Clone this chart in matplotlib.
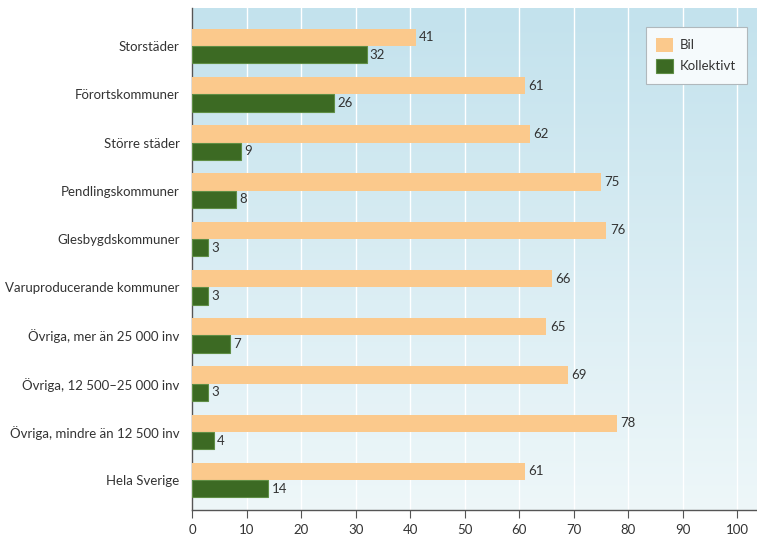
import numpy as np
import matplotlib.pyplot as plt
from matplotlib.colors import LinearSegmentedColormap

# ─── Data ─────────────────────────────────────────────────────────────────────

categories = [
    "Storstäder",
    "Förortskommuner",
    "Större städer",
    "Pendlingskommuner",
    "Glesbygdskommuner",
    "Varuproducerande kommuner",
    "Övriga, mer än 25 000 inv",
    "Övriga, 12 500–25 000 inv",
    "Övriga, mindre än 12 500 inv",
    "Hela Sverige",
]
bil = [41, 61, 62, 75, 76, 66, 65, 69, 78, 61]
kollektivt = [32, 26, 9, 8, 3, 3, 7, 3, 4, 14]
xticks = list(range(0, 101, 10))

BIL_COLOR = "#fbc98c"
KOLL_COLOR = "#3c6a23"
TEXT_COLOR = "#333333"

plt.rcParams["font.family"] = ["Lato", "DejaVu Sans"]
FS = 9.5

fig = plt.figure(figsize=(7.57, 5.41), dpi=100)
ax = fig.add_axes([192 / 757, 1 - 510 / 541, (757 - 192) / 757, (510 - 8) / 541])

# background gradient (light blue top -> almost white bottom)
cmap = LinearSegmentedColormap.from_list("bg", ["#c3e2ed", "#eef7f9"])
grad = np.linspace(0, 1, 256).reshape(-1, 1)
ax.imshow(grad, cmap=cmap, aspect="auto", extent=[0, 1, 0, 1],
          transform=ax.transAxes, zorder=0)

n = len(categories)
y = np.arange(n)[::-1]
h = 0.36

ax.barh(y + h / 2, bil, height=h, color=BIL_COLOR, zorder=3, label="Bil")
ax.barh(y - h / 2, kollektivt, height=h, color=KOLL_COLOR,
        edgecolor="#5f8e45", linewidth=0.8, zorder=3, label="Kollektivt")

for yi, b, k in zip(y, bil, kollektivt):
    ax.text(b + 0.6, yi + h / 2, str(b), va="center", ha="left",
            fontsize=FS, color=TEXT_COLOR, zorder=4)
    ax.text(k + 0.6, yi - h / 2, str(k), va="center", ha="left",
            fontsize=FS, color=TEXT_COLOR, zorder=4)

ax.set_xlim(0, 103.6)
ax.set_ylim(-0.62, n - 1 + 0.79)
ax.set_xticks(xticks)
ax.set_yticks(y)
ax.set_yticklabels(categories)
ax.tick_params(axis="y", length=0, pad=9, labelsize=FS, labelcolor=TEXT_COLOR)
ax.tick_params(axis="x", length=6, width=0.8, color="#555555", pad=4,
               labelsize=FS, labelcolor=TEXT_COLOR)

ax.grid(axis="x", color="white", linewidth=1.0, zorder=1)
ax.set_axisbelow(True)

for side in ("top", "right"):
    ax.spines[side].set_visible(False)
for side in ("left", "bottom"):
    ax.spines[side].set_color("#555555")
    ax.spines[side].set_linewidth(1.0)

leg = ax.legend(loc="upper right", bbox_to_anchor=(0.982, 0.962), borderaxespad=0,
                frameon=True, fancybox=False, fontsize=FS, handlelength=1.3,
                handleheight=1.3, borderpad=0.8, labelspacing=0.5,
                handletextpad=0.5)
leg.get_frame().set_facecolor("#f5fafc")
leg.get_frame().set_edgecolor("#b0b8bc")
leg.get_frame().set_linewidth(0.8)
leg.get_frame().set_alpha(1)
for t in leg.get_texts():
    t.set_color(TEXT_COLOR)

fig.savefig("out.png", dpi=100)
